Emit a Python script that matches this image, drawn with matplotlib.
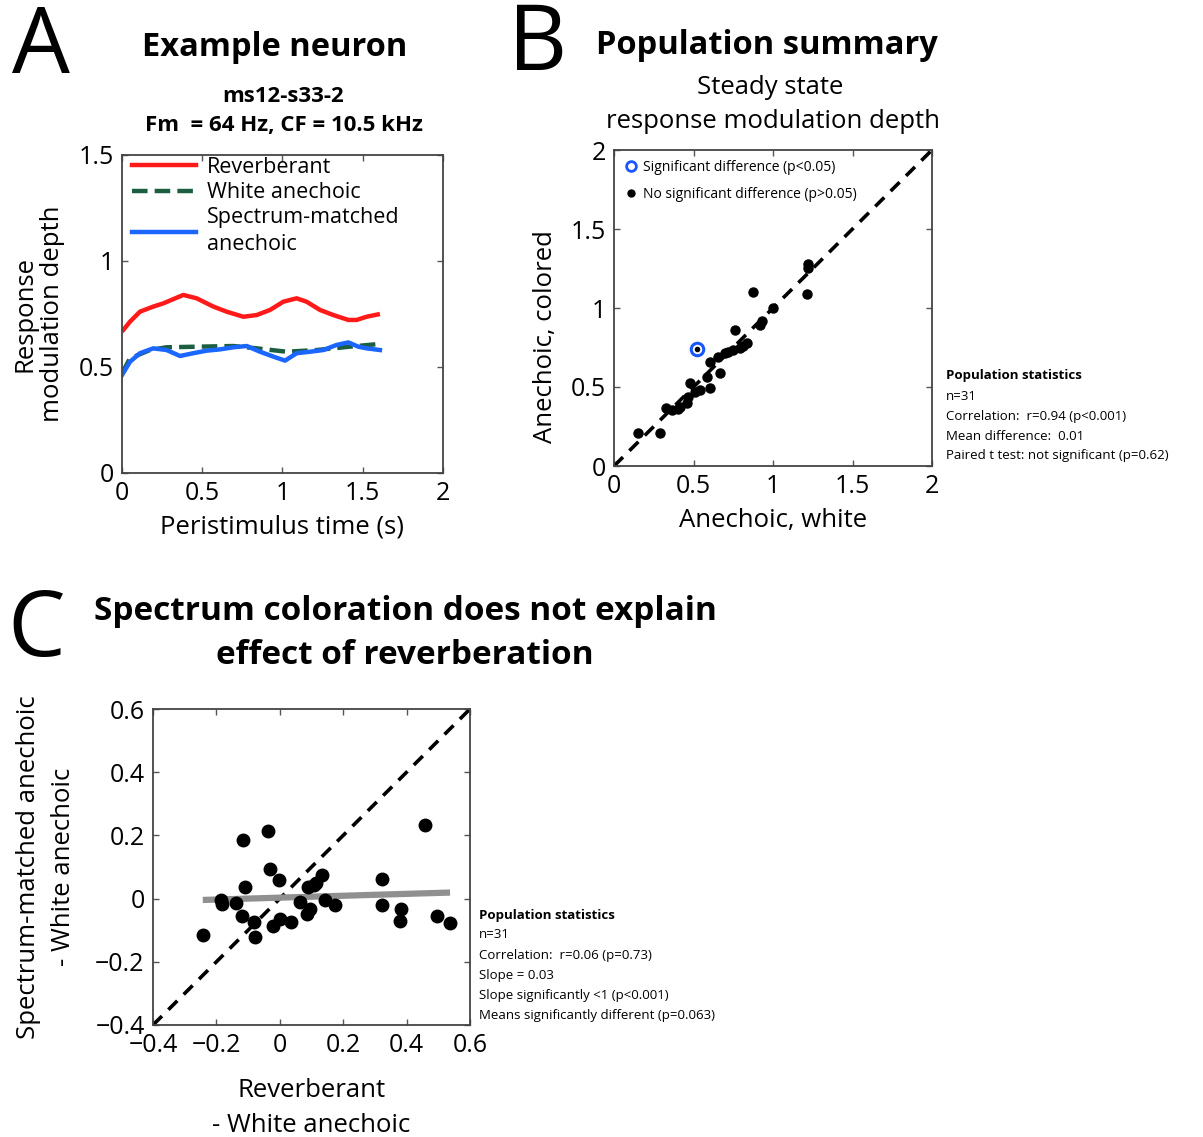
import numpy as np
import matplotlib
matplotlib.use("Agg")
import matplotlib.pyplot as plt
from matplotlib.lines import Line2D

plt.rcParams['font.family'] = ['Open Sans', 'DejaVu Sans']

W, H = 1203, 1137

# Panel A - example neuron, response modulation depth vs time
t_rev = [0, 0.05, 0.112, 0.195, 0.257, 0.382, 0.465, 0.569, 0.652, 0.756, 0.839,
         0.922, 1.005, 1.088, 1.150, 1.234, 1.317, 1.410, 1.462, 1.524, 1.607]
reverberant = [0.667, 0.714, 0.761, 0.785, 0.800, 0.840, 0.824, 0.785, 0.761, 0.737, 0.745,
               0.769, 0.808, 0.824, 0.808, 0.769, 0.745, 0.722, 0.722, 0.737, 0.750]
t_white = [0, 0.05, 0.174, 0.278, 0.486, 0.694, 0.839, 1.026, 1.213, 1.421, 1.607]
white_anechoic = [0.470, 0.541, 0.580, 0.593, 0.596, 0.599, 0.588, 0.572, 0.580, 0.596, 0.609]
t_spec = [0, 0.05, 0.112, 0.195, 0.278, 0.361, 0.444, 0.527, 0.610, 0.694, 0.777,
          0.860, 0.943, 1.016, 1.088, 1.171, 1.254, 1.337, 1.410, 1.472, 1.524, 1.607]
spectrum_matched = [0.462, 0.525, 0.565, 0.588, 0.580, 0.552, 0.565, 0.577, 0.583, 0.593, 0.599,
                    0.572, 0.549, 0.530, 0.565, 0.572, 0.580, 0.604, 0.616, 0.596, 0.588, 0.580]

# Panel B - population summary, anechoic white vs colored
b_white = [0.153, 0.289, 0.327, 0.363, 0.415, 0.457, 0.467, 0.478, 0.541, 0.604, 0.583,
           0.667, 0.604, 0.656, 0.698, 0.750, 0.792, 0.834, 0.761, 0.918, 0.930, 1.002,
           0.876, 1.212, 1.222, 1.222, 0.400, 0.510, 0.720, 0.810]
b_colored = [0.207, 0.207, 0.365, 0.354, 0.375, 0.397, 0.439, 0.523, 0.481, 0.492, 0.565,
             0.587, 0.660, 0.692, 0.713, 0.734, 0.745, 0.776, 0.861, 0.892, 0.920, 0.998,
             1.103, 1.089, 1.251, 1.278, 0.360, 0.470, 0.720, 0.760]
b_sig_white = [0.524]
b_sig_colored = [0.738]

# Panel C - reverberant minus white vs spectrum-matched minus white
c_rev = [-0.243, -0.117, -0.036, -0.110, -0.031, -0.002, -0.184, -0.181, -0.138, -0.120,
         -0.081, -0.078, -0.020, 0.000, 0.034, 0.063, 0.086, 0.095, 0.089, 0.114, 0.108,
         0.132, 0.143, 0.174, 0.322, 0.322, 0.378, 0.383, 0.458, 0.495, 0.537]
c_spec = [-0.115, 0.185, 0.214, 0.036, 0.094, 0.059, -0.004, -0.017, -0.013, -0.055,
          -0.075, -0.122, -0.087, -0.066, -0.075, -0.011, -0.048, -0.032, 0.036, 0.050, 0.043,
          0.074, -0.006, -0.020, 0.061, -0.020, -0.070, -0.033, 0.233, -0.055, -0.076]
fit_slope = 0.03
fit_intercept = 0.003

stats_b = ["n=31", "Correlation:  r=0.94 (p<0.001)", "Mean difference:  0.01",
           "Paired t test: not significant (p=0.62)"]
stats_c = ["n=31", "Correlation:  r=0.06 (p=0.73)", "Slope = 0.03",
           "Slope significantly <1 (p<0.001)", "Means significantly different (p=0.063)"]

LABEL = 18.5
TICK = 18


def px(x, y):
    return x / W, 1 - y / H


def box(l, t, r, b):
    return [l / W, 1 - b / H, (r - l) / W, (b - t) / H]


def style(ax):
    ax.tick_params(direction='in', top=True, right=True, length=4, width=1,
                   labelsize=TICK, pad=6, color='#555555')
    for s in ax.spines.values():
        s.set_linewidth(1.3)
        s.set_color('#444444')


fig = plt.figure(figsize=(W / 100, H / 100), dpi=100)

# ---------- A ----------
axA = fig.add_axes(box(122, 155, 443, 473))
axA.plot(t_rev, reverberant, color='#ff1a1a', lw=3.2, solid_capstyle='butt')
axA.plot(t_white, white_anechoic, color='#1b5e40', lw=3.2, ls=(0, (3.5, 1.6)))
axA.plot(t_spec, spectrum_matched, color='#1a66ff', lw=3.2)
axA.set_xlim(0, 2)
axA.set_ylim(0, 1.5)
axA.set_xticks([0, 0.5, 1, 1.5, 2])
axA.set_xticklabels(['0', '0.5', '1', '1.5', '2'])
axA.set_yticks([0, 0.5, 1, 1.5])
axA.set_yticklabels(['0', '0.5', '1', '1.5'])
style(axA)
axA.set_xlabel('Peristimulus time (s)', fontsize=LABEL, labelpad=6)
axA.set_ylabel('Response\nmodulation depth', fontsize=LABEL, labelpad=10, linespacing=1.1)
handlesA = [Line2D([], [], color='#ff1a1a', lw=3.2),
            Line2D([], [], color='#1b5e40', lw=3.2, ls=(0, (3.5, 1.6))),
            Line2D([], [], color='#1a66ff', lw=3.2)]
axA.legend(handlesA, ['Reverberant', 'White anechoic', 'Spectrum-matched\nanechoic'],
           loc='upper left', frameon=False, fontsize=15.5, handlelength=3.0,
           handletextpad=0.5, borderaxespad=0.05, labelspacing=0.2,
           bbox_to_anchor=(0.0, 1.025))
for txt in axA.get_legend().get_texts():
    txt.set_linespacing(1.35)

fig.text(*px(41, 49), 'A', fontsize=66, ha='center', va='center')
fig.text(*px(275, 48), 'Example neuron', fontsize=23.5, fontweight='bold', ha='center', va='center')
fig.text(*px(283, 97), 'ms12-s33-2', fontsize=16, fontweight='bold', ha='center', va='center')
fig.text(*px(284, 125), 'Fm  = 64 Hz, CF = 10.5 kHz', fontsize=16, fontweight='bold',
         ha='center', va='center')

# ---------- B ----------
axB = fig.add_axes(box(614, 150, 932, 466))
axB.plot([0, 2], [0, 2], color='black', lw=2.6, ls=(0, (3.5, 2.5)))
axB.plot(b_white, b_colored, 'o', color='black', ms=6.5, ls='none')
axB.plot(b_sig_white, b_sig_colored, 'o', mfc='none', mec='#1a55ff', mew=2.2, ms=9, ls='none')
axB.plot(b_sig_white, b_sig_colored, 'o', color='black', ms=3, ls='none')
axB.set_xlim(0, 2)
axB.set_ylim(0, 2)
axB.set_xticks([0, 0.5, 1, 1.5, 2])
axB.set_xticklabels(['0', '0.5', '1', '1.5', '2'])
axB.set_yticks([0, 0.5, 1, 1.5, 2])
axB.set_yticklabels(['0', '0.5', '1', '1.5', '2'])
style(axB)
axB.set_xlabel('Anechoic, white', fontsize=LABEL, labelpad=6)
axB.set_ylabel('Anechoic, colored', fontsize=LABEL, labelpad=8)
axB.yaxis.set_label_coords(-0.175, 0.41)
handlesB = [Line2D([], [], marker='o', mfc='none', mec='#1a55ff', mew=2, ms=7, ls='none'),
            Line2D([], [], marker='o', color='black', ms=5, ls='none')]
axB.legend(handlesB, ['Significant difference (p<0.05)', 'No significant difference (p>0.05)'],
           loc='upper left', frameon=False, fontsize=10, handlelength=1.0,
           handletextpad=0.4, borderaxespad=0.3, labelspacing=0.9)

fig.text(*px(538, 46), 'B', fontsize=66, ha='center', va='center')
fig.text(*px(767, 45), 'Population summary', fontsize=23.5, fontweight='bold', ha='center', va='center')
fig.text(*px(770, 87), 'Steady state', fontsize=LABEL, ha='center', va='center')
fig.text(*px(773, 122), 'response modulation depth', fontsize=LABEL, ha='center', va='center')

fig.text(*px(946, 376), 'Population statistics', fontsize=9.5, fontweight='bold', va='center')
for i, s in enumerate(stats_b):
    fig.text(*px(946, 396 + i * 20), s, fontsize=9.5, va='center')

# ---------- C ----------
axC = fig.add_axes(box(153, 709, 470, 1025))
axC.plot([-0.4, 0.6], [-0.4, 0.6], color='black', lw=2.6, ls=(0, (3.5, 2.5)))
fit_x = np.array([min(c_rev), max(c_rev)])
axC.plot(fit_x, fit_intercept + fit_slope * fit_x, color='#909090', lw=4.5, solid_capstyle='butt')
axC.plot(c_rev, c_spec, 'o', color='black', ms=9, ls='none')
axC.set_xlim(-0.4, 0.6)
axC.set_ylim(-0.4, 0.6)
cticks = [-0.4, -0.2, 0, 0.2, 0.4, 0.6]
clabels = ['\u22120.4', '\u22120.2', '0', '0.2', '0.4', '0.6']
axC.set_xticks(cticks)
axC.set_xticklabels(clabels)
axC.set_yticks(cticks)
axC.set_yticklabels(clabels)
style(axC)
axC.set_xlabel('Reverberant\n- White anechoic', fontsize=LABEL, labelpad=14, linespacing=1.55)
axC.set_ylabel('Spectrum-matched anechoic\n- White anechoic', fontsize=LABEL, labelpad=14,
               linespacing=1.5)

fig.text(*px(36, 632), 'C', fontsize=66, ha='center', va='center')
fig.text(*px(405, 611), 'Spectrum coloration does not explain', fontsize=24, fontweight='bold',
         ha='center', va='center')
fig.text(*px(405, 655), 'effect of reverberation', fontsize=24, fontweight='bold',
         ha='center', va='center')

fig.text(*px(479, 915), 'Population statistics', fontsize=9.5, fontweight='bold', va='center')
for i, s in enumerate(stats_c):
    fig.text(*px(479, 935 + i * 20), s, fontsize=9.5, va='center')

fig.savefig('out.png', dpi=100)
